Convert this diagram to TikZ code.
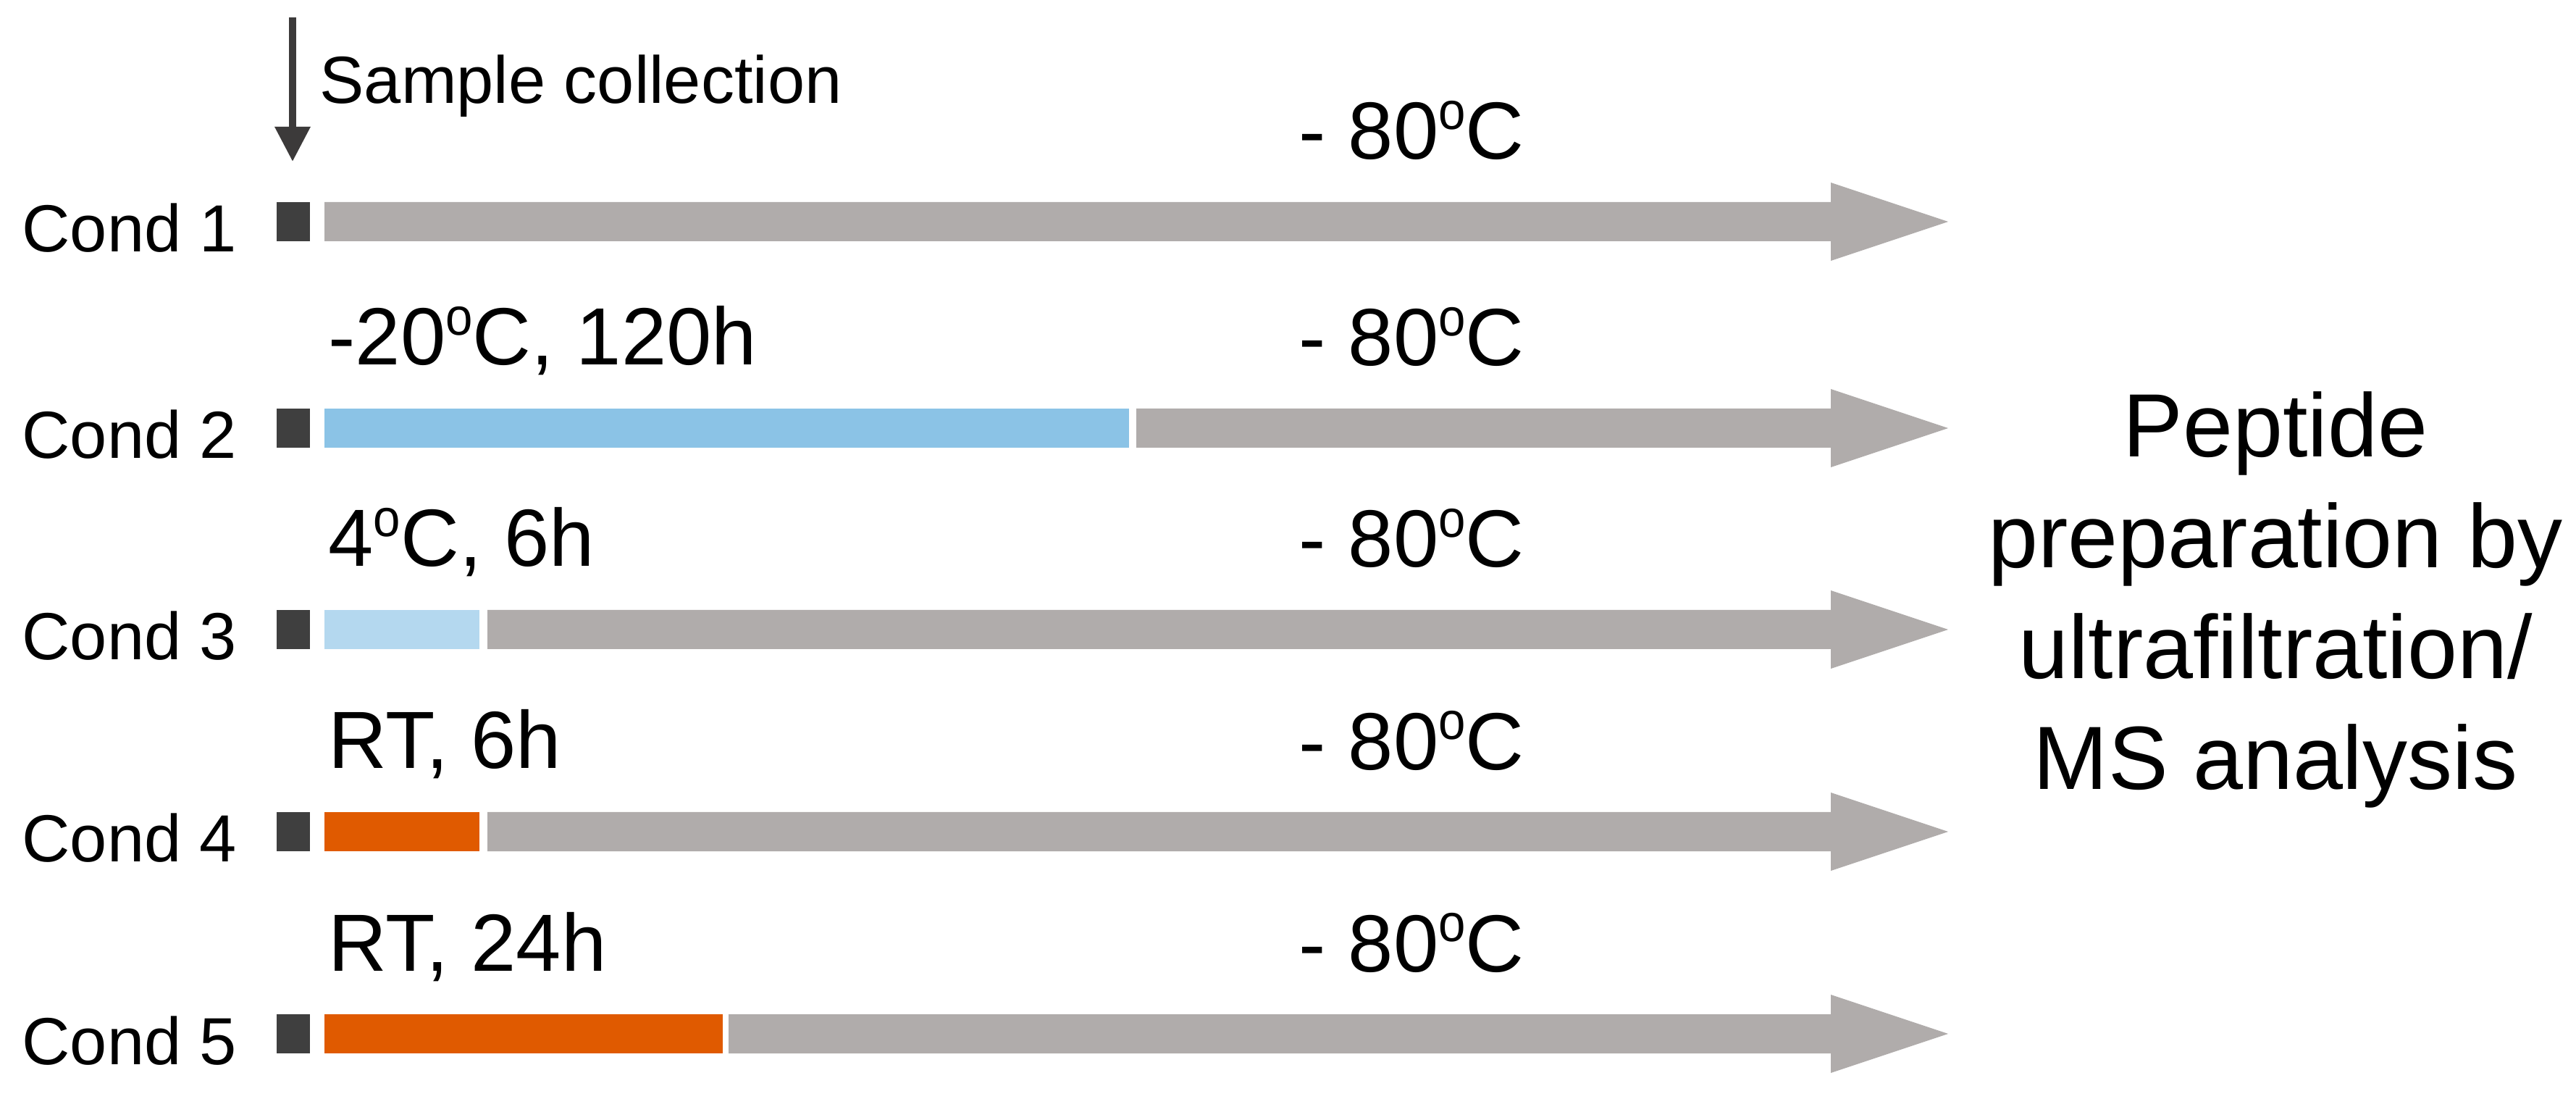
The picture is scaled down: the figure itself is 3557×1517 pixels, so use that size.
\documentclass[tikz,border=0pt]{standalone}
\usepackage{fontspec}
\setmainfont{Liberation Sans}
\usetikzlibrary{arrows.meta}

\definecolor{storegray}{HTML}{B0ACAB}
\definecolor{startdark}{HTML}{3F3F3F}
\definecolor{arrowdark}{HTML}{3C3A3A}
\definecolor{coldblue}{HTML}{8BC3E6}
\definecolor{coolblue}{HTML}{B4D8EF}
\definecolor{warmorange}{HTML}{E05A00}

\newcommand{\supo}{\raisebox{0.37em}{\scalebox{0.6}[0.65]{o}}}

\tikzset{every picture/.style={line width=0.75pt}}
\tikzset{
  condlbl/.style={anchor=base west, inner sep=0pt, font=\fontsize{23}{23}\selectfont},
  treatlbl/.style={anchor=base west, inner sep=0pt, font=\fontsize{28}{28}\selectfont},
  outlbl/.style={align=center, inner sep=0pt, font=\fontsize{31}{38.25}\selectfont}
}

\begin{document}
\begin{tikzpicture}[x=0.25pt,y=0.25pt,yscale=-1,xscale=1]
	\useasboundingbox (0,0) rectangle (3557,1517);

	%Straight Lines: sample collection
	\coordinate (scTop) at (404,24);
	\coordinate (scEnd) at (404,223);
	\draw [color=arrowdark, line width=2.4pt, -{Triangle[width=11.75pt,length=12pt]}] (scTop) -- (scEnd);
	%Text Node
	\node [condlbl] (sample) at (440,143) {Sample collection};

	%Shape: Rectangle (start marks)
	\fill [startdark] (382,279) rectangle (428,333);
	\fill [startdark] (382,564) rectangle (428,618);
	\fill [startdark] (382,842) rectangle (428,896);
	\fill [startdark] (382,1121) rectangle (428,1175);
	\fill [startdark] (382,1400) rectangle (428,1454);

	%Shape: Rectangle (treatment bars)
	\fill [coldblue] (448,564) rectangle (1559,618);
	\fill [coolblue] (448,842) rectangle (662,896);
	\fill [warmorange] (448,1121) rectangle (662,1175);
	\fill [warmorange] (448,1400) rectangle (998,1454);

	%Shape: Right Arrow (storage at -80)
	\fill [storegray] (448,279) -- (2528,279) -- (2528,252) -- (2690,306) -- (2528,360) -- (2528,333) -- (448,333) -- cycle;
	\fill [storegray] (1569,564) -- (2528,564) -- (2528,537) -- (2690,591) -- (2528,645) -- (2528,618) -- (1569,618) -- cycle;
	\fill [storegray] (673,842) -- (2528,842) -- (2528,815) -- (2690,869) -- (2528,923) -- (2528,896) -- (673,896) -- cycle;
	\fill [storegray] (673,1121) -- (2528,1121) -- (2528,1094) -- (2690,1148) -- (2528,1202) -- (2528,1175) -- (673,1175) -- cycle;
	\fill [storegray] (1006,1400) -- (2528,1400) -- (2528,1373) -- (2690,1427) -- (2528,1481) -- (2528,1454) -- (1006,1454) -- cycle;

	%Text Node (conditions)
	\node [condlbl] (cond1) at (29,348) {Cond 1};
	\node [condlbl] (cond2) at (29,633) {Cond 2};
	\node [condlbl] (cond3) at (29,911) {Cond 3};
	\node [condlbl] (cond4) at (29,1190) {Cond 4};
	\node [condlbl] (cond5) at (29,1469) {Cond 5};

	%Text Node (treatments)
	\node [treatlbl] (treat2) at (452,504) {-20\supo C, 120h};
	\node [treatlbl] (treat3) at (452,782) {4\supo C, 6h};
	\node [treatlbl] (treat4) at (452,1061) {RT, 6h};
	\node [treatlbl] (treat5) at (452,1340) {RT, 24h};

	%Text Node (storage)
	\node [treatlbl] (store1) at (1792,220) {- 80\supo C};
	\node [treatlbl] (store2) at (1792,505) {- 80\supo C};
	\node [treatlbl] (store3) at (1792,783) {- 80\supo C};
	\node [treatlbl] (store4) at (1792,1062) {- 80\supo C};
	\node [treatlbl] (store5) at (1792,1341) {- 80\supo C};

	%Text Node (analysis)
	\node [outlbl] (analysis) at (3142,828) {Peptide\\preparation by\\ultrafiltration/\\MS analysis};

\end{tikzpicture}
\end{document}
